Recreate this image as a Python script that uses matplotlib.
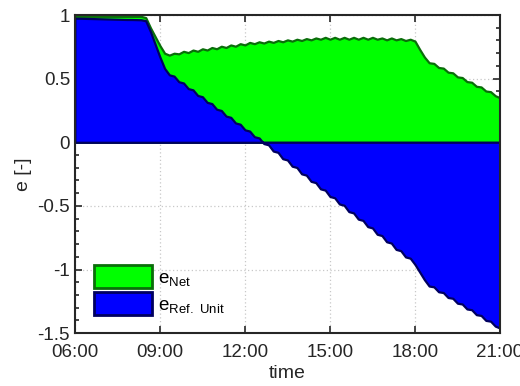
import numpy as np
import matplotlib
matplotlib.use('Agg')
import matplotlib.pyplot as plt
from matplotlib.patches import Patch

plt.rcParams['font.family'] = ['Liberation Sans', 'DejaVu Sans']
plt.rcParams['axes.unicode_minus'] = False
plt.rcParams['mathtext.default'] = 'regular'

# time in hours, 10 min steps from 06:00 to 21:00
t = 6 + np.arange(91) / 6.0

# e_Net (green)
e_net = [0.99, 0.99, 0.99, 0.99, 0.99, 0.99, 0.99, 0.99, 0.99, 0.99,
         0.99, 0.99, 0.99, 0.99, 0.99, 0.98, 0.90, 0.83, 0.76, 0.70,
         0.685, 0.70, 0.695, 0.715, 0.705, 0.725, 0.715, 0.735, 0.725, 0.745,
         0.735, 0.755, 0.745, 0.765, 0.755, 0.775, 0.765, 0.785, 0.775, 0.79,
         0.78, 0.795, 0.785, 0.80, 0.79, 0.805, 0.795, 0.81, 0.80, 0.815,
         0.805, 0.82, 0.81, 0.825, 0.81, 0.825, 0.81, 0.825, 0.81, 0.825,
         0.81, 0.825, 0.81, 0.825, 0.81, 0.82, 0.805, 0.82, 0.805, 0.815,
         0.80, 0.81, 0.795, 0.73, 0.67, 0.625, 0.62, 0.588, 0.583, 0.551,
         0.546, 0.514, 0.509, 0.477, 0.472, 0.44, 0.435, 0.403, 0.398, 0.366,
         0.35]

# e_Ref. Unit (blue)
e_ref = [0.975, 0.975, 0.974, 0.973, 0.972, 0.971, 0.970, 0.969, 0.968, 0.967,
         0.966, 0.965, 0.965, 0.964, 0.963, 0.955, 0.87, 0.77, 0.67, 0.58,
         0.53, 0.52, 0.476, 0.466, 0.422, 0.412, 0.368, 0.358, 0.314, 0.304,
         0.26, 0.25, 0.206, 0.196, 0.152, 0.142, 0.098, 0.088, 0.044, 0.034,
         -0.01, -0.02, -0.069, -0.079, -0.129, -0.139, -0.188, -0.198, -0.248, -0.258,
         -0.307, -0.317, -0.366, -0.376, -0.426, -0.436, -0.485, -0.495, -0.545, -0.555,
         -0.604, -0.614, -0.663, -0.673, -0.723, -0.733, -0.782, -0.792, -0.842, -0.852,
         -0.901, -0.911, -0.96, -1.02, -1.08, -1.13, -1.136, -1.175, -1.181, -1.22,
         -1.226, -1.265, -1.271, -1.31, -1.316, -1.355, -1.361, -1.40, -1.406, -1.445,
         -1.46]

xticks = [6, 9, 12, 15, 18, 21]
xlabels = ['06:00', '09:00', '12:00', '15:00', '18:00', '21:00']
yticks = [-1.5, -1, -0.5, 0, 0.5, 1]
ylabels = ['-1.5', '-1', '-0.5', '0', '0.5', '1']

green, green_edge = '#00ff00', '#0a6e0a'
blue, blue_edge = '#0000ff', '#000060'

fig = plt.figure(figsize=(5.2, 3.86), dpi=100)
ax = fig.add_axes([0.144, 0.137, 0.8175, 0.824])

ax.fill_between(t, 0, e_net, facecolor=green, edgecolor=green_edge, linewidth=1.6, zorder=2)
ax.fill_between(t, 0, e_ref, facecolor=blue, edgecolor=blue_edge, linewidth=1.6, zorder=3)

ax.set_xlim(6, 21)
ax.set_ylim(-1.5, 1)
ax.set_xticks(xticks)
ax.set_xticklabels(xlabels)
ax.set_yticks(yticks)
ax.set_yticklabels(ylabels)
ax.set_yticks(np.arange(-1.5, 1.01, 0.1), minor=True)

ax.grid(True, which='major', linestyle=(0, (1, 2)), color='#c8c8c8', linewidth=0.9, zorder=1)
ax.set_axisbelow(True)
ax.tick_params(direction='in', which='both', top=True, right=True, labelsize=13.5,
               colors='#262626', width=1.2)
ax.tick_params(which='major', length=5)
ax.tick_params(which='minor', length=3)
ax.tick_params(axis='x', pad=8)
for s in ax.spines.values():
    s.set_linewidth(1.5)
    s.set_color('#262626')
    s.set_zorder(5)

ax.set_xlabel('time', fontsize=14, color='#262626', labelpad=3)
ax.set_ylabel('e [-]', fontsize=14, color='#262626', labelpad=4)

handles = [Patch(facecolor=green, edgecolor=green_edge, linewidth=2),
           Patch(facecolor=blue, edgecolor=blue_edge, linewidth=2)]
ax.legend(handles, ['$e_{Net}$', '$e_{Ref.\\ Unit}$'], loc='lower left',
          bbox_to_anchor=(0.005, 0.005), frameon=False, fontsize=13.5,
          handlelength=3.1, handleheight=1.45, handletextpad=0.3, labelspacing=0.25)

fig.savefig('out.png', dpi=100)
